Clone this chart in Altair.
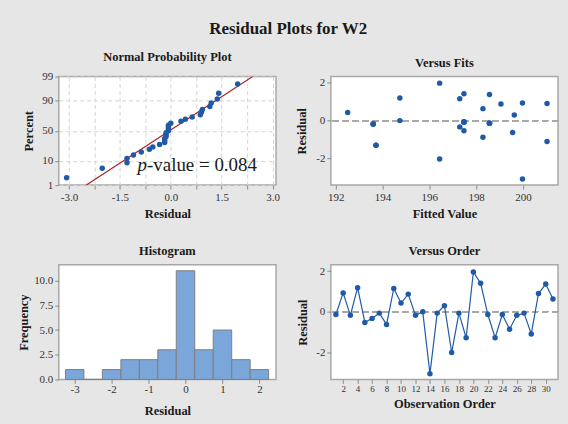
import altair as alt
import pandas as pd
from statistics import NormalDist, mean, stdev

# ---- data ----
observation = list(range(1, 32))
residuals = [-0.14, 0.93, -0.18, 1.19, -0.53, -0.33, -0.07, -0.63, 1.15, 0.43,
             0.87, -0.18, 0.00, -3.07, -0.07, 0.30, -2.02, -0.07, -1.29, 1.97,
             1.41, -0.14, -1.29, -0.14, -0.87, -0.18, -0.07, -1.10, 0.90, 1.37, 0.63]
fitted = [198.57, 199.98, 193.60, 194.74, 197.48, 197.30, 197.48, 199.56, 197.30, 192.51,
          199.06, 193.60, 194.74, 199.98, 197.48, 199.63, 196.44, 197.48, 193.72, 196.44,
          197.48, 198.57, 193.72, 198.57, 198.29, 193.60, 197.48, 201.03, 201.03, 198.57, 198.29]
hist_centers = [-3.0, -2.5, -2.0, -1.5, -1.0, -0.5, 0.0, 0.5, 1.0, 1.5, 2.0]
hist_counts = [1, 0, 1, 2, 2, 3, 11, 3, 5, 2, 1]
bin_width = 0.5
pct_ticks = [1, 10, 50, 90, 99]
npp_x_grid = [-3.0, -2.25, -1.5, -0.75, 0.0, 0.75, 1.5, 2.25, 3.0]
p_value_text = "-value = 0.084"

FONT = "Liberation Serif"
BLUE = "#1f5aa6"
RED = "#b0282c"
FIX = "replace(datum.label, '\u2212', '-')"

nd = NormalDist()
n = len(residuals)
srt = sorted(residuals)
npp_df = pd.DataFrame({
    "res": srt,
    "z": [nd.inv_cdf((i + 1 - 0.3) / (n + 0.4)) for i in range(n)],
})
zlo, zhi = nd.inv_cdf(pct_ticks[0] / 100), nd.inv_cdf(pct_ticks[-1] / 100)
mu, sd = mean(residuals), stdev(residuals)
line_df = pd.DataFrame({"res": [mu + sd * zlo, mu + sd * zhi], "z": [zlo, zhi]})
zticks = [round(nd.inv_cdf(p / 100), 4) for p in pct_ticks]
zlabel = ("datum.value < -2 ? '1' : (datum.value < -1 ? '10' : (datum.value < 1 ? '50' : "
          "(datum.value < 2 ? '90' : '99')))")

main_df = pd.DataFrame({"obs": observation, "res": residuals, "fit": fitted})
hist_df = pd.DataFrame({
    "start": [c - bin_width / 2 for c in hist_centers],
    "end": [c + bin_width / 2 for c in hist_centers],
    "count": hist_counts,
})


def ax(**kw):
    base = dict(labelFont=FONT, labelFontSize=11, labelColor="#333333",
                titleFont=FONT, titleFontSize=12.5, titleFontWeight="bold",
                titleColor="#1a1a1a", domain=False, tickColor="#8c8c8c",
                tickSize=4, grid=False, labelPadding=2, titlePadding=6,
                labelOverlap=False, labelFlush=False)
    base.update(kw)
    return alt.Axis(**base)


def ttl(text):
    return alt.TitleParams(text, font=FONT, fontSize=12.5, fontWeight="bold",
                           color="#1a1a1a", anchor="middle", offset=7)


LW, RW, TH, BH = 218, 228, 109, 115

# ---- Normal probability plot ----
xs_npp = alt.Scale(domain=[-3.3, 3.1], nice=False, zero=False)
ys_npp = alt.Scale(domain=[zlo, zhi], nice=False, zero=False)
npp_xaxis = ax(values=npp_x_grid, grid=True, gridDash=[4, 3], gridColor="#d4d4d4",
               labelExpr="abs(datum.value % 1.5) < 0.01 ? replace(format(datum.value, '.1f'), '\u2212', '-') : ''")
npp_yaxis = ax(values=zticks, grid=True, gridDash=[4, 3], gridColor="#d4d4d4",
               labelExpr=zlabel, titlePadding=6)
npp_line = alt.Chart(line_df).mark_line(color=RED, strokeWidth=1.2, clip=True).encode(
    x=alt.X("res:Q", scale=xs_npp, title="Residual", axis=npp_xaxis),
    y=alt.Y("z:Q", scale=ys_npp, title="Percent", axis=npp_yaxis))
npp_pts = alt.Chart(npp_df).mark_circle(size=30, color=BLUE, opacity=1).encode(
    x=alt.X("res:Q", scale=xs_npp, title="Residual", axis=npp_xaxis),
    y=alt.Y("z:Q", scale=ys_npp, title="Percent", axis=npp_yaxis),
)
p_italic = alt.Chart(pd.DataFrame({"t": ["p"]})).mark_text(
    font=FONT, fontSize=19, fontStyle="italic", align="left", baseline="alphabetic",
    color="#1a1a1a").encode(text="t:N", x=alt.value(79), y=alt.value(95))
p_rest = alt.Chart(pd.DataFrame({"t": [p_value_text]})).mark_text(
    font=FONT, fontSize=19, align="left", baseline="alphabetic",
    color="#1a1a1a").encode(text="t:N", x=alt.value(88.5), y=alt.value(95))
npp = alt.layer(npp_line, npp_pts, p_italic, p_rest).properties(
    width=LW, height=TH, title=ttl("Normal Probability Plot"))

# ---- Versus fits ----
fits_base = alt.Chart(main_df)
fits_rule = fits_base.mark_rule(color="#a8a8a8", strokeDash=[6, 4], strokeWidth=1.2).encode(
    y=alt.datum(0))
fits_pts = fits_base.mark_circle(size=30, color=BLUE, opacity=1).encode(
    x=alt.X("fit:Q", scale=alt.Scale(domain=[191.79, 201.5], nice=False, zero=False),
            title="Fitted Value", axis=ax(values=[192, 194, 196, 198, 200])),
    y=alt.Y("res:Q", scale=alt.Scale(domain=[-3.39, 2.32], nice=False),
            title="Residual", axis=ax(values=[-2, 0, 2], labelExpr=FIX, titlePadding=7)),
)
fits = alt.layer(fits_rule, fits_pts).properties(width=RW, height=TH, title=ttl("Versus Fits"))

# ---- Histogram ----
hist = alt.Chart(hist_df).mark_bar(color="#7aa6d9", stroke="#7f7f7f", strokeWidth=1).encode(
    x=alt.X("start:Q", scale=alt.Scale(domain=[-3.43, 2.45], nice=False, zero=False),
            title="Residual", axis=ax(values=[-3, -2, -1, 0, 1, 2], format="d", labelExpr=FIX,
                                      labelPadding=0, titlePadding=10)),
    x2="end:Q",
    y=alt.Y("count:Q", scale=alt.Scale(domain=[0, 11.6], nice=False),
            title="Frequency", axis=ax(values=[0, 2.5, 5, 7.5, 10], format=".1f", titlePadding=3)),
    y2=alt.datum(0),
).properties(width=LW, height=BH, title=ttl("Histogram"))

# ---- Versus order ----
ord_base = alt.Chart(main_df)
ord_rule = ord_base.mark_rule(color="#a8a8a8", strokeDash=[6, 4], strokeWidth=1.2).encode(
    y=alt.datum(0))
ord_line = ord_base.mark_line(color=BLUE, strokeWidth=1.2,
                              point=alt.OverlayMarkDef(filled=True, size=30, color=BLUE)).encode(
    x=alt.X("obs:Q", scale=alt.Scale(domain=[0.3, 31.7], nice=False, zero=False),
            title="Observation Order",
            axis=ax(values=list(range(2, 31, 2)), labelFontSize=9, labelPadding=1,
                    titlePadding=4)),
    y=alt.Y("res:Q", scale=alt.Scale(domain=[-3.35, 2.32], nice=False),
            title="Residual", axis=ax(values=[-2, 0, 2], labelExpr=FIX, titlePadding=6)),
)
order = alt.layer(ord_rule, ord_line).properties(width=RW, height=BH, title=ttl("Versus Order"))

chart = alt.concat(
    npp, fits, hist, order, columns=2, spacing={"row": 80, "column": 55}, bounds="flush",
).properties(
    title=alt.TitleParams("Residual Plots for W2", font=FONT, fontSize=17, fontWeight="bold",
                          color="#1a1a1a", anchor="middle", offset=12),
    padding={"left": 17, "top": 19, "right": 8, "bottom": 6},
    background="#e6e6e6",
).configure_view(fill="white", stroke="#a8a8a8", strokeWidth=1.5)

chart.save("out.html", embed_options={"renderer": "svg", "actions": False})
